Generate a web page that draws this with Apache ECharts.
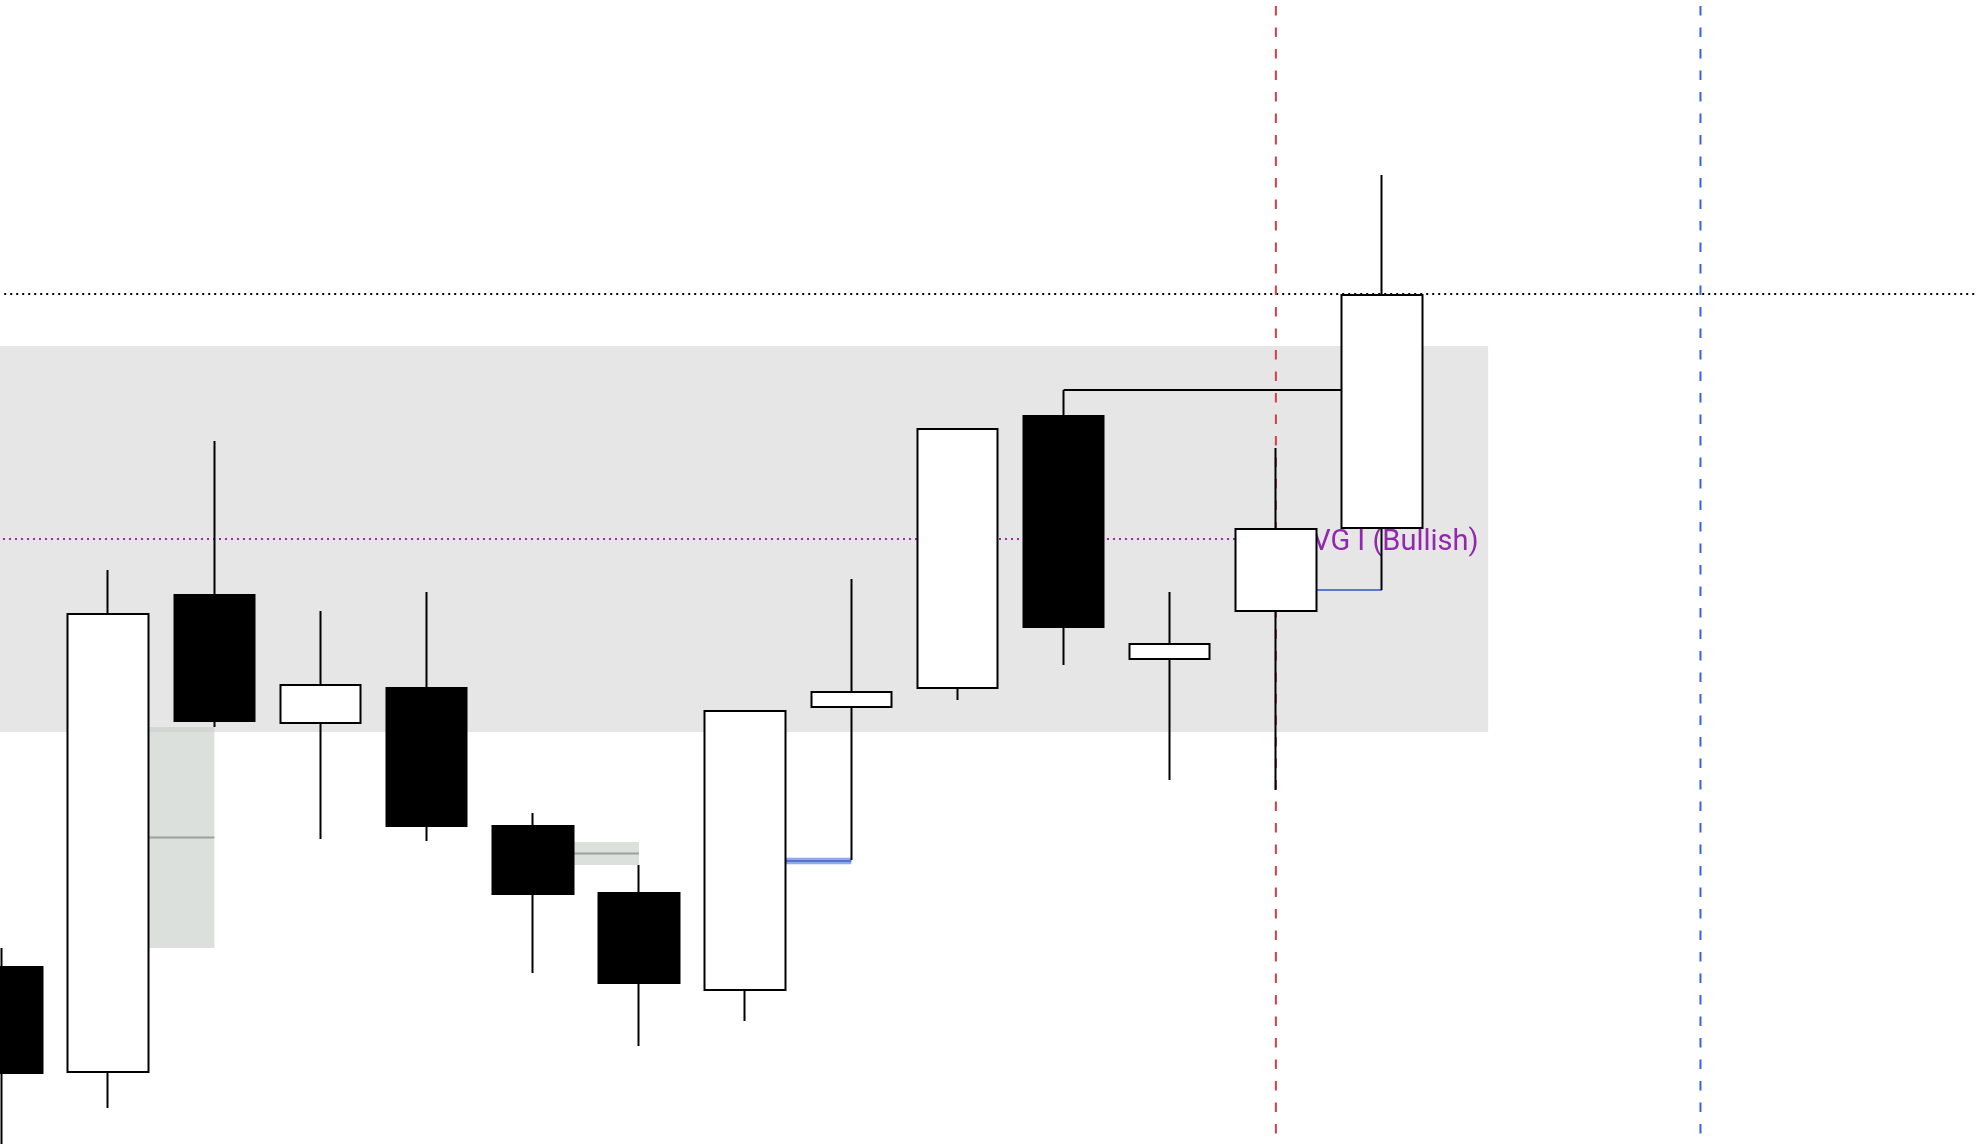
<!DOCTYPE html>
<html>
<head>
<meta charset="utf-8">
<script src="https://cdn.jsdelivr.net/npm/echarts@6/dist/echarts.min.js"></script>
<style>
html,body{margin:0;padding:0;background:#ffffff;overflow:hidden;width:1978px;height:1144px;position:relative}
#chart{position:absolute;left:-51.25px;top:0;width:2123px;height:1144px}
</style>
</head>
<body>
<div id="chart"></div>
<script>
// ---- data ----
const categories = ['b0','b1','b2','b3','b4','b5','b6','b7','b8','b9','b10','b11','b12','b13','b14','b15','b16','b17','b18','b19'];
const opens  = [101.77, 100.72, 105.49, 104.21, 104.56, 103.18, 102.51, 101.54, 104.37, 104.56, 107.28, 104.85, 105.33, 106.16];
const closes = [100.71, 105.30, 104.23, 104.59, 103.18, 102.50, 101.61, 104.33, 104.52, 107.15, 105.17, 105.00, 106.15, 108.49];
const lows   = [ 99.84, 100.36, 104.17, 103.05, 103.03, 101.71, 100.98, 101.23, 102.84, 104.44, 104.79, 103.64, 103.54, 105.54];
const highs  = [101.96, 105.74, 107.03, 105.33, 105.52, 103.31, 102.79, 104.33, 105.65, 107.15, 107.54, 105.52, 106.96, 109.69];

// price range shown
const priceMin = 100.00;
const priceMax = 111.44;

// grey range zone: [xStart, xEnd, bottom, top]
const rangeZone = [[-0.5, 14, 104.12, 107.98]];
// fair value gap zones: [xStart, xEnd, bottom, top]
const fvgZones = [[1, 2, 101.96, 104.17], [5, 6, 102.79, 103.02]];
// blue levels: [xStart, xEnd, price]
const blueLevelWide = [[7, 8, 102.83]];
const blueLevelThin = [[12, 13, 105.54]];
// black solid level: [xStart, xEnd, price]
const blackLevel = [[10, 13, 107.54]];
// black dotted level
const dottedLevel = [[0.02, 19.5, 108.50]];
// purple dotted FVG level and its label
const fvgLevel = [[-0.5, 12, 106.05]];
const fvgLabel = [[13.91, 106.01, 'FVG I (Bullish)']];
// vertical markers
const redMarker = [[12]];
const blueMarker = [[16]];

// ---- build ----
const candleData = opens.map((o, i) => [o, closes[i], lows[i], highs[i]]);
const fvgMidlines = fvgZones.map(z => [z[0], z[1], (z[2] + z[3]) / 2]);

function rectSeries(name, rows, fill, z) {
  return {
    name, type: 'custom', xAxisIndex: 1, yAxisIndex: 0, z, silent: true,
    data: rows,
    renderItem: (params, api) => {
      const p1 = api.coord([api.value(0), api.value(3)]);
      const p2 = api.coord([api.value(1), api.value(2)]);
      return { type: 'rect', shape: { x: p1[0], y: p1[1], width: p2[0] - p1[0], height: p2[1] - p1[1] }, style: { fill } };
    }
  };
}
function lineSeries(name, rows, stroke, lineWidth, lineDash, z) {
  return {
    name, type: 'custom', xAxisIndex: 1, yAxisIndex: 0, z, silent: true,
    data: rows,
    renderItem: (params, api) => {
      const p1 = api.coord([api.value(0), api.value(2)]);
      const p2 = api.coord([api.value(1), api.value(2)]);
      return { type: 'line', shape: { x1: p1[0], y1: p1[1], x2: p2[0], y2: p2[1] }, style: { stroke, lineWidth, lineDash: lineDash || null, fill: null } };
    }
  };
}
function vLineSeries(name, rows, stroke, z) {
  return {
    name, type: 'custom', xAxisIndex: 1, yAxisIndex: 0, z, silent: true,
    data: rows,
    renderItem: (params, api) => {
      const p1 = api.coord([api.value(0), priceMax]);
      const p2 = api.coord([api.value(0), priceMin]);
      return { type: 'line', shape: { x1: p1[0], y1: p1[1] + 6, x2: p2[0], y2: p2[1] }, style: { stroke, lineWidth: 2, lineDash: [9.5, 12], fill: null } };
    }
  };
}

const chart = echarts.init(document.getElementById('chart'), null, { renderer: 'canvas' });
chart.setOption({
  animation: false,
  backgroundColor: '#ffffff',
  grid: { left: 0, top: 0, right: 0, bottom: 0, containLabel: false },
  xAxis: [
    { type: 'category', data: categories, boundaryGap: true, show: false },
    { type: 'value', min: -0.5, max: categories.length - 0.5, show: false }
  ],
  yAxis: [{ type: 'value', min: priceMin, max: priceMax, show: false }],
  series: [
    rectSeries('range', rangeZone, '#e6e6e6', 1),
    lineSeries('fvgLevel', fvgLevel, '#9c27b0', 2, [2, 4], 2),
    {
      name: 'fvgLabel', type: 'custom', xAxisIndex: 1, yAxisIndex: 0, z: 2, silent: true,
      data: fvgLabel,
      renderItem: (params, api) => {
        const p = api.coord([api.value(0), api.value(1)]);
        return { type: 'text', x: p[0], y: p[1], style: { text: fvgLabel[params.dataIndex][2], fill: '#9228ad', fontSize: 29, fontFamily: 'Roboto', align: 'right', verticalAlign: 'middle' } };
      }
    },
    rectSeries('fvg', fvgZones, 'rgba(199,207,202,0.64)', 3),
    lineSeries('fvgMid', fvgMidlines, '#9ca19e', 2, null, 3),
    lineSeries('blueWideBand', blueLevelWide, '#8fa8f2', 6.5, null, 3),
    lineSeries('blueWideCore', blueLevelWide, '#5a70c9', 2, null, 3),
    lineSeries('blueThin', blueLevelThin, '#5b78d0', 2, null, 3),
    lineSeries('blackLevel', blackLevel, '#000000', 2, null, 3),
    lineSeries('dotted', dottedLevel, '#000000', 2, [2, 4], 3),
    vLineSeries('redMarker', redMarker, '#d23f47', 4),
    vLineSeries('blueMarker', blueMarker, '#3b5fe6', 4),
    {
      name: 'price', type: 'candlestick', xAxisIndex: 0, yAxisIndex: 0, z: 10,
      data: candleData,
      barWidth: 81,
      itemStyle: { color: '#ffffff', color0: '#000000', borderColor: '#000000', borderColor0: '#000000', borderColorDoji: '#000000', borderWidth: 2 }
    }
  ]
});
</script>
</body>
</html>
